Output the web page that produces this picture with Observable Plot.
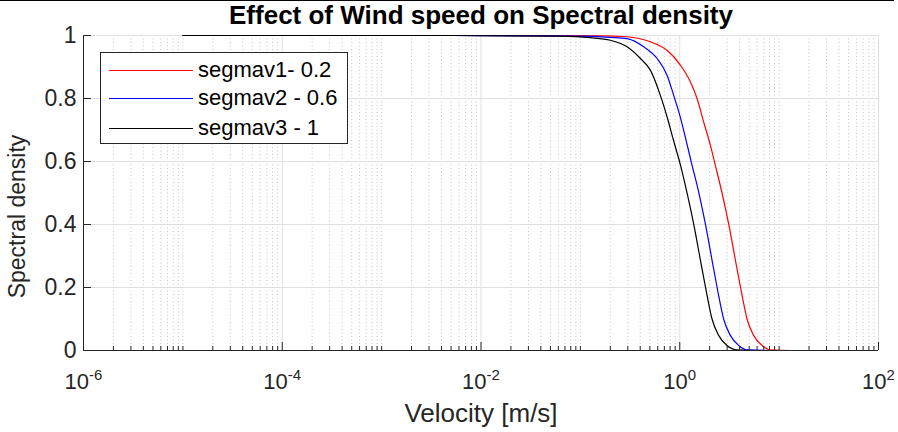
<!DOCTYPE html>
<html><head><meta charset="utf-8">
<script src="https://cdn.jsdelivr.net/npm/d3@7"></script>
<script src="https://cdn.jsdelivr.net/npm/@observablehq/plot@0.6"></script>
<style>
body{margin:0;background:#fff;font-family:"Liberation Sans",Arial,sans-serif;}
#wrap{position:relative;width:898px;height:432px;overflow:hidden;background:#fff}
#topline{position:absolute;left:0;top:0;width:894px;height:1px;background:#000;z-index:2}
#legend{position:absolute;left:100px;top:52px;width:246px;height:90px;border:1px solid #262626;background:#fff;z-index:3}
.lgrow{position:absolute;left:0;height:0}
.lgline{position:absolute;left:8px;width:84px;top:0;height:0;border-top:1.2px solid #000}
.lgtext{position:absolute;left:97px;top:-13px;font-size:22px;line-height:26px;color:#000;white-space:nowrap}
</style></head><body><div id="wrap"><div id="topline"></div><div id="legend"></div></div>
<script>
// ---- data ----
const seriesNames = ["segmav1- 0.2", "segmav2 - 0.6", "segmav3 - 1"];
const seriesColors = ["#ff0000", "#0000ff", "#000000"];

const velocityRed = [1e-5, 0.005, 0.159, 0.295, 0.506, 0.745, 1.014, 1.278, 1.493, 1.739, 2.032, 2.281, 2.664, 3.104, 3.770, 4.236, 4.754, 5.534, 6.73, 8.15, 12.97, 30];
const densityRed  = [1, 1, 0.999, 0.996, 0.98, 0.953, 0.906, 0.853, 0.80, 0.726, 0.652, 0.588, 0.50, 0.402, 0.259, 0.175, 0.10, 0.048, 0.016, 0.002, 0, 0];

const velocityBlue = [1e-5, 0.005, 0.100, 0.200, 0.295, 0.434, 0.592, 0.745, 0.869, 1.014, 1.183, 1.330, 1.493, 1.810, 2.193, 2.461, 2.765, 3.228, 3.915, 4.754, 8.15, 30];
const densityBlue  = [1, 1, 0.998, 0.994, 0.99, 0.964, 0.927, 0.874, 0.81, 0.74, 0.655, 0.588, 0.525, 0.402, 0.259, 0.175, 0.10, 0.048, 0.016, 0.002, 0, 0];

const velocityBlack = [1e-5, 0.005, 0.063, 0.126, 0.200, 0.295, 0.402, 0.506, 0.638, 0.745, 0.869, 1.014, 1.138, 1.380, 1.676, 1.883, 2.113, 2.461, 2.991, 3.770, 6.47, 30];
const densityBlack  = [1, 1, 0.998, 0.993, 0.985, 0.964, 0.927, 0.89, 0.81, 0.742, 0.665, 0.59, 0.524, 0.402, 0.259, 0.175, 0.10, 0.048, 0.016, 0.002, 0, 0];

const xTicks = [1e-6, 1e-4, 1e-2, 1, 100];
const xTickLabels = ["10^-6", "10^-4", "10^-2", "10^0", "10^2"];
const yTicks = [0, 0.2, 0.4, 0.6, 0.8, 1];
const yTickLabels = ["0", "0.2", "0.4", "0.6", "0.8", "1"];
const titleText = "Effect of Wind speed on Spectral density";
const xLabel = "Velocity [m/s]";
const yLabel = "Spectral density";

// minor log ticks: 2..9 x 10^k and odd decades
const minorX = [];
for (let k = -6; k <= 1; k++) {
  if (k % 2 !== 0) minorX.push(Math.pow(10, k));
  for (let m = 2; m <= 9; m++) minorX.push(m * Math.pow(10, k));
}

const rows = [];
[[velocityRed, densityRed], [velocityBlue, densityBlue], [velocityBlack, densityBlack]].forEach(([vs, ds], si) => {
  vs.forEach((v, i) => rows.push({s: seriesNames[si], v, d: ds[i]}));
});

const axisColor = "#262626";
const font = "'Liberation Sans', Arial, sans-serif";

const chart = Plot.plot({
  width: 898, height: 432,
  marginLeft: 83, marginRight: 20, marginTop: 35, marginBottom: 82,
  style: {fontFamily: font, background: "white", color: axisColor, overflow: "visible"},
  x: {type: "log", domain: [1e-6, 100]},
  y: {domain: [0, 1]},
  color: {domain: seriesNames, range: seriesColors.slice()},
  marks: [
    Plot.ruleX(minorX, {stroke: "#c4c4c4", strokeDasharray: "1,2.5"}),
    Plot.ruleX(xTicks, {stroke: "#e0e0e0"}),
    Plot.ruleY(yTicks, {stroke: "#e0e0e0"}),
    Plot.line(rows, {x: "v", y: "d", z: "s", stroke: "s", curve: "monotone-x", strokeWidth: 1.2}),
    Plot.ruleY([0], {stroke: axisColor}),
    Plot.ruleX([1e-6], {stroke: axisColor}),
    Plot.axisX(minorX, {tickSize: -4, tickFormat: () => "", label: null}),
    Plot.axisX(xTicks, {tickSize: -8, tickPadding: 31, fontSize: 22, label: null,
      tickFormat: d => xTickLabels[xTicks.indexOf(d)]}),
    Plot.axisY(yTicks, {tickSize: -8, tickPadding: 15, fontSize: 23, label: null,
      tickFormat: d => yTickLabels[yTicks.indexOf(d)]}),
    Plot.text([yLabel], {text: d => d, frameAnchor: "left", textAnchor: "middle", rotate: -90, dx: -66, dy: 23.5, fontSize: 23, fill: axisColor, ariaLabel: "ylabel"}),
    Plot.text([xLabel], {text: d => d, frameAnchor: "bottom", dy: 53, lineAnchor: "top", fontSize: 26, fill: axisColor}),
    Plot.text([titleText], {text: d => d, frameAnchor: "top", dy: -30, lineAnchor: "top", fontSize: 26, fontWeight: "bold", fill: "#000"})
  ]
});

// y-label: condensed like the reference
chart.querySelectorAll('g[aria-label="ylabel"] text').forEach(t => {
  t.setAttribute("textLength", "145");
  t.setAttribute("lengthAdjust", "spacingAndGlyphs");
});

// superscript exponents on x tick labels
const ns = "http://www.w3.org/2000/svg";
chart.querySelectorAll('g[aria-label="x-axis tick label"] text').forEach(t => {
  const s = t.textContent;
  if (!s.includes("^")) return;
  const [base, exp] = s.split("^");
  t.textContent = "";
  const a = document.createElementNS(ns, "tspan"); a.textContent = base; t.appendChild(a);
  const b = document.createElementNS(ns, "tspan"); b.textContent = exp;
  b.setAttribute("dy", "-9"); b.setAttribute("font-size", "15"); t.appendChild(b);
});

document.getElementById("wrap").appendChild(chart);

// legend box (HTML overlay)
const legend = d3.select("#legend");
const legendTop = [17, 45, 75];
seriesNames.forEach((name, i) => {
  const row = legend.append("div").attr("class", "lgrow").style("top", legendTop[i] + "px");
  row.append("div").attr("class", "lgline").style("border-top-color", seriesColors[i]);
  row.append("div").attr("class", "lgtext").text(name);
});
</script>
</body></html>
